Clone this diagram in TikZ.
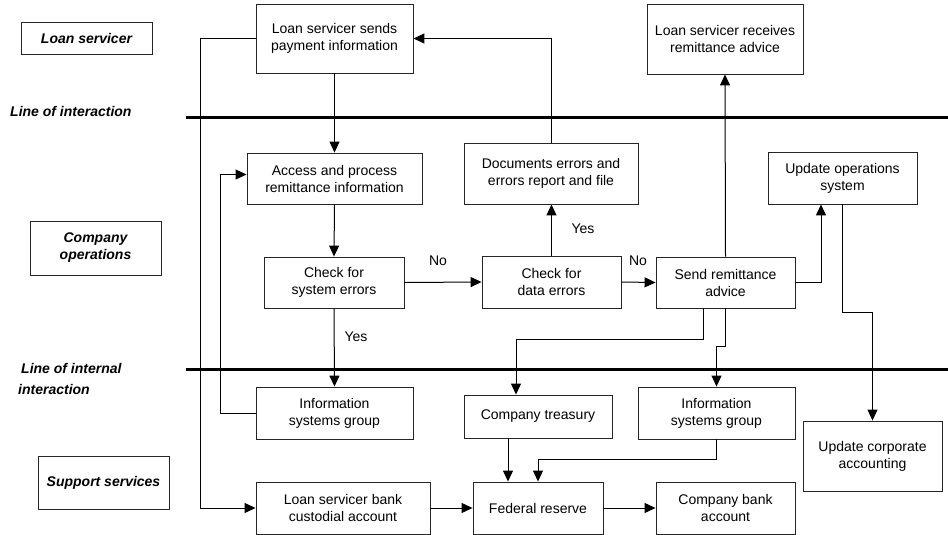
\documentclass[tikz,border=0pt]{standalone}
\usepackage{fontspec}
\setmainfont{Liberation Sans}
\usetikzlibrary{calc,arrows.meta}
\begin{document}
\begin{tikzpicture}[x=1pt,y=-1pt,
  every node/.style={font=\fontsize{14}{17}\selectfont},
  box/.style={draw=black!85,line width=0.9pt,inner sep=0pt,align=center,minimum width=#1},
  lane/.style={draw=black!85,line width=0.9pt,inner sep=0pt,align=center,minimum width=131pt,font=\fontsize{14}{17}\selectfont\bfseries\itshape},
  lanetxt/.style={anchor=west,inner sep=0pt,font=\fontsize{14}{17}\selectfont\bfseries\itshape},
  thick line/.style={line width=3pt},
  conn/.style={line width=1pt},
  arr/.style={conn,-{Triangle[length=11pt,width=10pt]}},
  lbl/.style={inner sep=0pt}]
\useasboundingbox (0,0) rectangle (948,535);
% lane labels
\node[lane,minimum height=32pt] (lsLab) at (86.5,38) {Loan servicer};
\node[lane,minimum height=54pt] (coLab) at (95.5,248) {Company\\operations};
\node[lane,minimum height=53pt] (ssLab) at (103.5,482.5) {Support services};
\node[lanetxt] (loi) at (10,111) {Line of interaction};
\node[lanetxt] (loii1) at (21,368) {Line of internal};
\node[lanetxt] (loii2) at (18,389) {interaction};
% thick lines
\coordinate (l1a) at (186,117); \coordinate (l1b) at (948,117);
\coordinate (l2a) at (186,369); \coordinate (l2b) at (948,369);
\draw[thick line] (l1a) -- (l1b);
\draw[thick line] (l2a) -- (l2b);
% boxes
\node[box=157pt,minimum height=69pt] (sends) at (334.5,38.5) {Loan servicer sends\\payment information};
\node[box=175pt,minimum height=51pt] (access) at (334.5,178.5) {Access and process\\remittance information};
\node[box=140pt,minimum height=51pt] (chksys) at (334,282.5) {Check for\\system errors};
\node[box=157pt,minimum height=52pt] (infoL) at (334.5,413) {Information\\systems group};
\node[box=174pt,minimum height=52pt] (loanbank) at (343,508) {Loan servicer bank\\custodial account};
\node[box=174pt,minimum height=61pt] (docs) at (551,173.5) {Documents errors and\\errors report and file};
\node[box=139pt,minimum height=52pt] (chkdata) at (551.5,282) {Check for\\data errors};
\node[box=156pt,minimum height=70pt] (receives) at (725,39) {Loan servicer receives\\remittance advice};
\node[box=149pt,minimum height=52pt] (updops) at (842.5,178) {Update operations\\system};
\node[box=139pt,minimum height=51pt] (send) at (725.5,282.5) {Send remittance\\advice};
\node[box=148pt,minimum height=43pt] (treas) at (538,416.5) {Company treasury};
\node[box=157pt,minimum height=52pt] (infoR) at (716.5,413) {Information\\systems group};
\node[box=139pt,minimum height=70pt] (corp) at (872.5,456) {Update corporate\\accounting};
\node[box=130pt,minimum height=52pt] (federal) at (538,508) {Federal reserve};
\node[box=139pt,minimum height=52pt] (compbank) at (725.5,508) {Company bank\\account};
% labels
\node[lbl] (no1) at (438,261) {No};
\node[lbl] (yes1) at (356,337) {Yes};
\node[lbl] (yes2) at (583,229) {Yes};
\node[lbl] (no2) at (638,261) {No};
% connectors
\draw[arr] (sends.south) -- (access.north);
\draw[arr] (access.south) -- (chksys.north);
\draw[arr] (chksys.east) -- (chkdata.west);
\draw[arr] (chksys.south) -- (infoL.north);
\draw[arr] (chkdata.north) -- (chkdata.north |- docs.south);
\draw[arr] (docs.north) |- (sends.east);
\draw[arr] (chkdata.east) -- (send.west);
\draw[arr] (send.north) -- (receives.south);
\coordinate (upin) at ($(updops.south)+(-21.5,0)$);
\draw[arr] (send.east) -| (upin);
\coordinate (uout) at ($(updops.south)+(0,0)$);
\coordinate (cturn) at ($(corp.north)+(0,-108)$);
\draw[arr] (uout) |- (cturn) -- (corp.north);
\coordinate (sout1) at ($(send.south)+(-22.5,0)$);
\coordinate (tin) at ($(treas.north)+(-22,0)$);
\coordinate (tturn) at ($(tin)+(0,-55)$);
\draw[arr] (sout1) |- (tturn) -- (tin);
\coordinate (iturn) at ($(infoR.north)+(0,-40)$);
\draw[arr] (send.south) |- (iturn) -- (infoR.north);
\coordinate (tout) at ($(treas.south)+(-30,0)$);
\draw[arr] (tout) -- (tout |- federal.north);
\coordinate (fturn) at ($(federal.north)+(0,-22)$);
\draw[arr] (infoR.south) |- (fturn) -- (federal.north);
\draw[arr] (loanbank.east) -- (federal.west);
\draw[arr] (federal.east) -- (compbank.west);
\coordinate (lturn) at ($(sends.west)+(-55,0)$);
\draw[arr] (sends.west) -- (lturn) |- (loanbank.west);
\coordinate (ain) at ($(access.west)+(0,-4)$);
\coordinate (iturnL) at ($(infoL.west)+(-35,0)$);
\draw[arr] (infoL.west) -- (iturnL) |- (ain);
\end{tikzpicture}
\end{document}
